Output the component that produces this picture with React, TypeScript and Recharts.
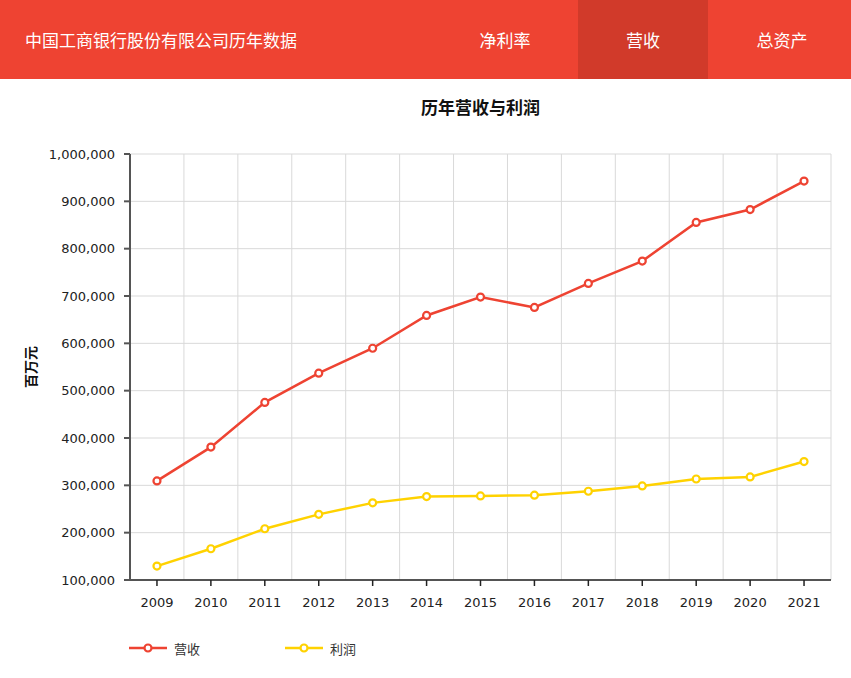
import { CartesianGrid, Line, LineChart, XAxis, YAxis } from "recharts";

const years = ["2009", "2010", "2011", "2012", "2013", "2014", "2015", "2016", "2017", "2018", "2019", "2020", "2021"];
const revenue = [309411, 380748, 475214, 536945, 589637, 658892, 697647, 675891, 726502, 773789, 855428, 882665, 942762];
const profit = [129350, 166025, 208265, 238691, 262965, 276286, 277720, 279106, 287451, 298723, 313361, 317685, 350216];
const yTicks = [100000, 200000, 300000, 400000, 500000, 600000, 700000, 800000, 900000, 1000000];
const tabs = ["净利率", "营收", "总资产"];
const seriesNames = ["营收", "利润"];

const RED = "#ee4332";
const YELLOW = "#ffd200";
const COLORS = [RED, YELLOW];
const FONT = "'Noto Sans CJK SC', 'Noto Sans', sans-serif";
const TICK_FONT = "'DejaVu Sans', Verdana, sans-serif";

const rows = years.map((year, i) => ({ year, revenue: revenue[i], profit: profit[i] }));

const fmt = (v: number) => v.toLocaleString("en-US");

// vertical grid lines sit on the band boundaries between years
const bandEdges = ({ offset }: any) => {
  const n = years.length;
  return Array.from({ length: n + 1 }, (_, k) => offset.left + (offset.width * k) / n);
};

export default function App() {
  return (
    <div style={{ position: "absolute", left: 0, top: 0, width: 851, height: 678, background: "#fff", fontFamily: FONT }}>
      {/* header bar */}
      <div style={{ position: "absolute", left: 0, top: 0, width: 851, height: 79, background: RED }}>
        <div style={{ position: "absolute", left: 25, top: 0, lineHeight: "79px", fontSize: 17, color: "#fff" }}>
          中国工商银行股份有限公司历年数据
        </div>
        {tabs.map((t, i) => (
          <div
            key={t}
            style={{
              position: "absolute",
              left: 448 + i * 130,
              top: 0,
              width: 130,
              height: 79,
              lineHeight: "79px",
              textAlign: "center",
              fontSize: 17,
              color: "#fff",
              background: i === 1 ? "#d13a2a" : "transparent",
              paddingLeft: i === 2 ? 18 : 0,
              marginLeft: i === 0 ? -8 : 0,
              boxSizing: "border-box"
            }}
          >
            {t}
          </div>
        ))}
      </div>

      <div style={{ position: "absolute", left: 0, top: 94, width: 851, textAlign: "center", paddingLeft: 110, boxSizing: "border-box", fontSize: 17, fontWeight: 700, color: "#111" }}>
        历年营收与利润
      </div>

      <div
        style={{
          position: "absolute",
          left: 30,
          top: 367,
          transform: "translate(-50%, -50%) rotate(-90deg)",
          fontSize: 14,
          fontWeight: 700,
          color: "#111",
          whiteSpace: "nowrap"
        }}
      >
        百万元
      </div>

      <div style={{ position: "absolute", left: 0, top: 80 }}>
        <LineChart width={851} height={598} data={rows} margin={{ top: 74, right: 20, bottom: 68, left: 50 }}>
          <CartesianGrid stroke="#d9d9d9" strokeWidth={1} verticalCoordinatesGenerator={bandEdges} />
          <XAxis
            dataKey="year"
            scale="band"
            stroke="#222"
            strokeWidth={1.5}
            tickSize={6}
            tickMargin={12}
            height={30}
            interval={0}
            tick={{ fontSize: 13, fill: "#222", fontFamily: TICK_FONT }}
          />
          <YAxis
            domain={[100000, 1000000]}
            ticks={yTicks}
            tickFormatter={fmt}
            width={80}
            stroke="#555"
            strokeWidth={2}
            tickSize={6}
            tickMargin={9}
            tick={{ fontSize: 13, fill: "#222", fontFamily: TICK_FONT }}
          />
          <Line
            dataKey="revenue"
            name={seriesNames[0]}
            stroke={RED}
            strokeWidth={2.5}
            type="linear"
            dot={{ r: 3.5, fill: "#fff", stroke: RED, strokeWidth: 2.2 }}
            isAnimationActive={false}
          />
          <Line
            dataKey="profit"
            name={seriesNames[1]}
            stroke={YELLOW}
            strokeWidth={2.5}
            type="linear"
            dot={{ r: 3.5, fill: "#fff", stroke: YELLOW, strokeWidth: 2.2 }}
            isAnimationActive={false}
          />
        </LineChart>
      </div>

      {/* legend */}
      {seriesNames.map((name, i) => (
        <div key={name} style={{ position: "absolute", left: 129 + i * 156, top: 638, height: 20, display: "flex", alignItems: "center" }}>
          <svg width={38} height={20}>
            <line x1={0} y1={10} x2={38} y2={10} stroke={COLORS[i]} strokeWidth={2.5} />
            <circle cx={19} cy={10} r={3.5} fill="#fff" stroke={COLORS[i]} strokeWidth={2.2} />
          </svg>
          <span style={{ marginLeft: 7, fontSize: 13, color: "#333" }}>{name}</span>
        </div>
      ))}
    </div>
  );
}
